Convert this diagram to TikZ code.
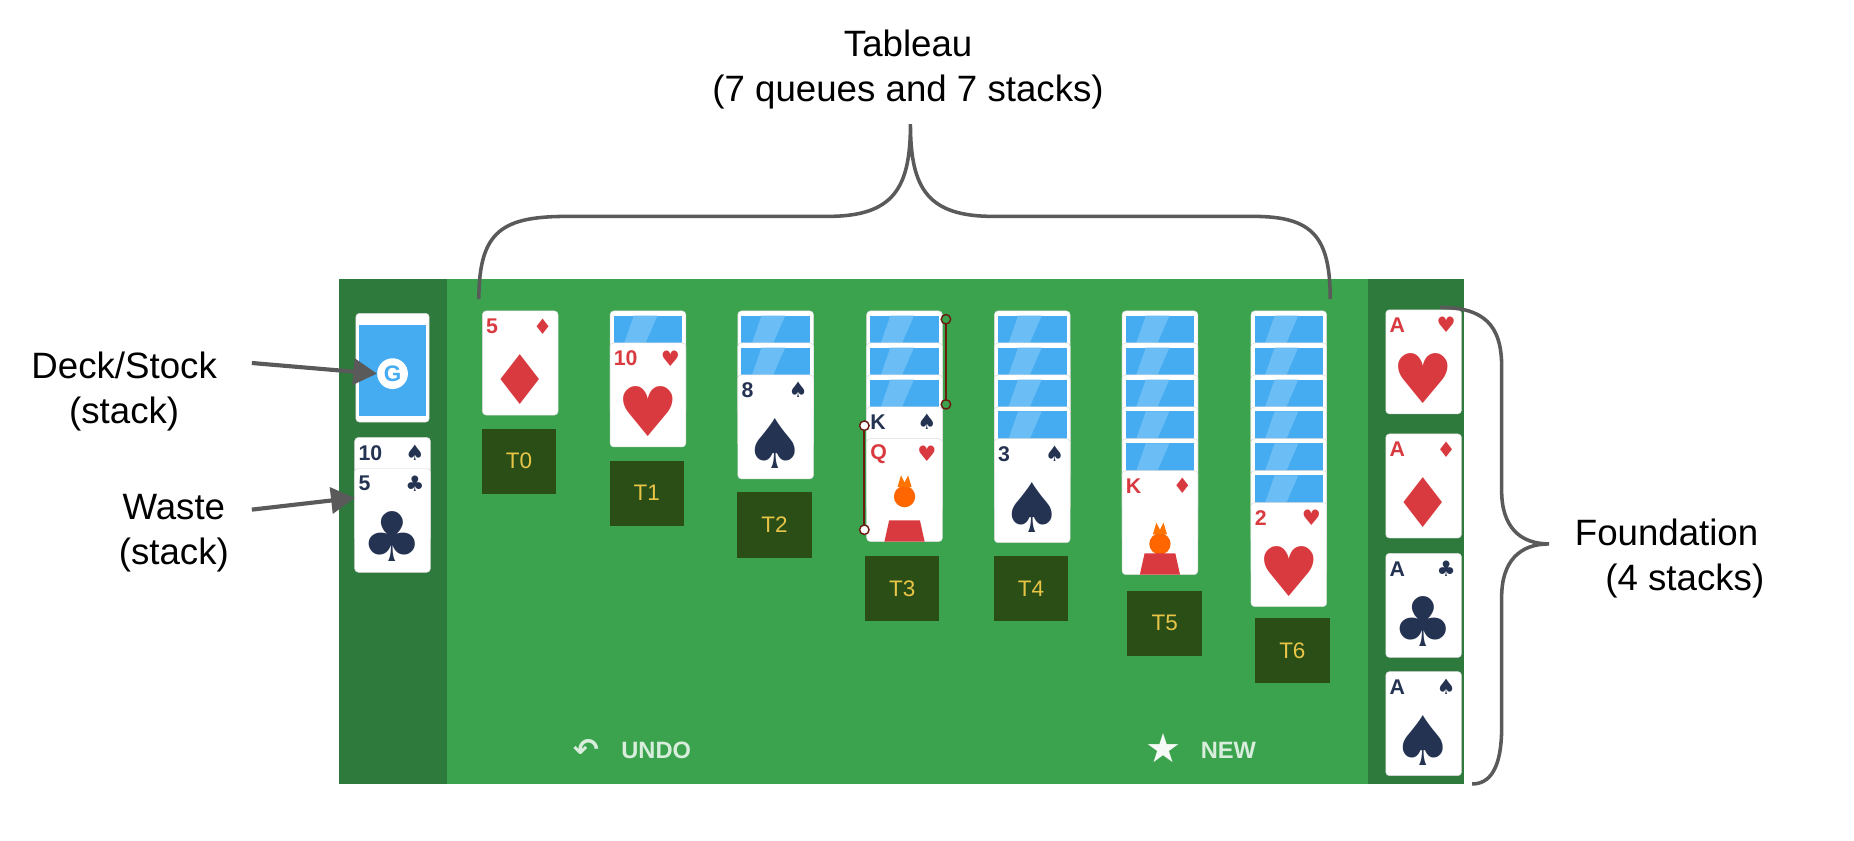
\documentclass[tikz,border=0pt]{standalone}
\usepackage{fontspec}
\setmainfont{Liberation Sans}
\newfontfamily\symf{DejaVu Sans}
\usetikzlibrary{arrows.meta}
\definecolor{board}{HTML}{3BA34E}
\definecolor{boardd}{HTML}{2E7A3C}
\definecolor{lab}{HTML}{2B4E17}
\definecolor{labt}{HTML}{E8C547}
\definecolor{cred}{HTML}{D93A3F}
\definecolor{cblk}{HTML}{253352}
\definecolor{cblue}{HTML}{45ACF2}
\definecolor{agray}{HTML}{5A5A5A}
\definecolor{mkbrown}{HTML}{6B1A10}
\tikzset{
 cardbox/.style={fill=white,draw=gray!30,rounded corners=3pt},
 tlab/.style={fill=lab,minimum width=63pt,minimum height=55pt,text=labt,font=\fontsize{19}{19}\selectfont,inner sep=0pt},
 ann/.style={font=\fontsize{31}{38}\selectfont,align=center,text=black},
 arr/.style={draw=agray,line width=3.5pt,-{Triangle[length=20pt,width=22pt]}},
 brace/.style={draw=agray,line width=3pt},
 btn/.style={text=white!80!board,font=\bfseries\fontsize{20}{20}\selectfont},
}
\newcommand\cback[2]{%
 \path[cardbox] (#1,#2) rectangle ++(64,88);
 \fill[cblue] (#1+3,#2+4) rectangle ++(58,23);
 \fill[cblue!80!white] (#1+20,#2+4) -- (#1+40,#2+4) -- (#1+30,#2+27) -- (#1+12,#2+27) --cycle;}
\newcommand\cface[5]{%
 \path[cardbox] (#1,#2) rectangle ++(64,88);
 \node[text=#5,font=\bfseries\fontsize{18}{18}\selectfont,anchor=west,inner sep=0pt] at (#1+3,#2+13) {#3};
 \node[text=#5,font=\symf\fontsize{18}{18}\selectfont,inner sep=0pt] at (#1+51,#2+13) {#4};
 \node[text=#5,font=\symf\fontsize{58}{58}\selectfont,inner sep=0pt] at (#1+32,#2+58) {#4};}
\newcommand\ctop[5]{%
 \path[cardbox] (#1,#2) rectangle ++(64,88);
 \node[text=#5,font=\bfseries\fontsize{18}{18}\selectfont,anchor=west,inner sep=0pt] at (#1+3,#2+13) {#3};
 \node[text=#5,font=\symf\fontsize{18}{18}\selectfont,inner sep=0pt] at (#1+51,#2+13) {#4};}
\begin{document}
\begin{tikzpicture}[x=1pt,y=-1pt]
\useasboundingbox (0,0) rectangle (1568,710.5);
\fill[board] (287,236) rectangle (1238,663);
\fill[boardd] (287,236) rectangle (378,663);
\fill[boardd] (1157,236) rectangle (1238,663);
\path[cardbox] (301,265) rectangle (363,357);
\fill[cblue] (304,275) rectangle (360,352);
\node[circle,fill=white,minimum size=26pt,inner sep=0pt,text=cblue,font=\bfseries\fontsize{19}{19}\selectfont] (deck) at (332,316) {G};
\ctop{300}{370}{10}{♠}{cblk}
\cface{300}{396}{5}{♣}{cblk}
\coordinate (waste) at (300,421);
\cface{408}{263}{5}{♦}{cred}
\node[tlab] (t0) at (439,390) {T0};
\cback{516}{263}\cface{516}{290}{10}{♥}{cred}
\node[tlab] (t1) at (547,417) {T1};
\cback{624}{263}\cback{624}{290}\cface{624}{317}{8}{♠}{cblk}
\node[tlab] (t2) at (655,444) {T2};
\cback{733}{263}\cback{733}{290}\cback{733}{317}\ctop{733}{344}{K}{♠}{cblk}
\path[cardbox] (733,371) rectangle ++(64,87);
\node[text=cred,font=\bfseries\fontsize{18}{18}\selectfont,anchor=west,inner sep=0pt] at (736,384) {Q};
\node[text=cred,font=\symf\fontsize{18}{18}\selectfont,inner sep=0pt] at (784,384) {♥};
\fill[orange!80!red] (765,420) circle (9);
\fill[cred] (748,458) -- (752,440) -- (778,440) -- (782,458) -- cycle;
\fill[orange!90!red] (759,412) -- (762,402) -- (765,408) -- (768,402) -- (771,412) -- cycle;
\node[tlab] (t3) at (763,498) {T3};
\draw[mkbrown,line width=1.5pt] (800,270) -- (800,342);
\draw[mkbrown,line width=1.2pt,fill=board] (800,270) circle (4) (800,342) circle (4);
\draw[mkbrown,line width=1.5pt] (731,360) -- (731,448);
\draw[mkbrown,line width=1.2pt,fill=white] (731,360) circle (4) (731,448) circle (4);
\cback{841}{263}\cback{841}{290}\cback{841}{317}\cback{841}{344}\cface{841}{371}{3}{♠}{cblk}
\node[tlab] (t4) at (872,498) {T4};
\cback{949}{263}\cback{949}{290}\cback{949}{317}\cback{949}{344}\cback{949}{371}\ctop{949}{398}{K}{♦}{cred}
\fill[orange!80!red] (981,460) circle (9);
\fill[cred] (964,486) -- (968,468) -- (994,468) -- (998,486) -- cycle;
\fill[orange!90!red] (975,452) -- (978,442) -- (981,448) -- (984,442) -- (987,452) -- cycle;
\node[tlab] (t5) at (985,527) {T5};
\cback{1058}{263}\cback{1058}{290}\cback{1058}{317}\cback{1058}{344}\cback{1058}{371}\cback{1058}{398}\cface{1058}{425}{2}{♥}{cred}
\node[tlab] (t6) at (1093,550) {T6};
\begin{scope}
\clip (1160,236) rectangle (1238,663);
\cface{1172}{262}{A}{♥}{cred}
\cface{1172}{367}{A}{♦}{cred}
\cface{1172}{468}{A}{♣}{cblk}
\cface{1172}{568}{A}{♠}{cblk}
\end{scope}
\coordinate (f1) at (1218,260);
\coordinate (f2) at (1245,663);
\node[text=white!80!board,font=\symf\bfseries\fontsize{26}{26}\selectfont] (undoi) at (496,634) {↶};
\node[btn,anchor=west] (undo) at (522,635) {UNDO};
\node[text=white!95!board,font=\symf\fontsize{34}{34}\selectfont] (newi) at (984,633) {★};
\node[btn,anchor=west] (new) at (1012,635) {NEW};
\node[ann] (tab) at (768,59) {Tableau\\(7 queues and 7 stacks)};
\node[ann] (deckl) at (105,331) {Deck/Stock\\(stack)};
\node[ann] (wastel) at (147,451) {Waste\\(stack)};
\node[ann,align=left] (found) at (1412,472) {Foundation\\\ \ \ (4 stacks)};
\draw[arr] (213,307) -- (deck.west);
\draw[arr] (213,431) -- (waste);
\coordinate (b1) at (405,253);
\coordinate (b2) at (1125,253);
\draw[brace] (b1) .. controls (405,195) and (425,183) .. (480,183) -- (700,183) .. controls (755,183) and (770,160) .. (770,105) .. controls (770,160) and (785,183) .. (840,183) -- (1060,183) .. controls (1110,183) and (1125,200) .. (b2);
\draw[brace] (f1) .. controls (1255,260) and (1270,275) .. (1270,310) -- (1270,415) .. controls (1270,445) and (1285,460) .. (1310,460) .. controls (1285,460) and (1270,475) .. (1270,505) -- (1270,615) .. controls (1270,650) and (1260,663) .. (f2);
\end{tikzpicture}
\end{document}
